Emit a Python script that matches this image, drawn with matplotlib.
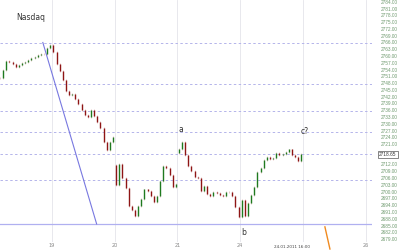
import matplotlib
matplotlib.use('Agg')
import matplotlib.pyplot as plt
import numpy as np

title = "Nasdaq"
day_ticks = [0, 1, 2, 3, 4, 5]
day_labels = ['19', '20', '21', '24', '', '26']
cursor_label = "24.01.2011 16:00"
last_price_label = "2718.65"

# bar closes, 20 bars per day, first bar at day -0.825
bar_start = -0.825
bar_step = 0.05
closes = [
    2750.3, 2753.8, 2757.8, 2757.4, 2756.5, 2755.2, 2756.0, 2756.9, 2757.4, 2758.3,
    2759.1, 2759.6, 2760.5, 2760.9, 2760.9, 2763.6, 2764.9, 2761.8, 2756.5, 2753.4,
    2749.4, 2744.5, 2742.8, 2743.2, 2741.0, 2738.8, 2736.1, 2733.9, 2733.0, 2736.1,
    2733.5, 2730.8, 2728.2, 2722.0, 2718.5, 2722.0, 2724.2, 2702.9, 2712.2, 2706.0,
    2701.6, 2693.6, 2691.9, 2689.2, 2693.6, 2696.8, 2700.8, 2700.3, 2698.1, 2695.4,
    2698.1, 2704.7, 2711.4, 2710.5, 2707.4, 2702.1, 2703.4, 2718.9, 2722.0, 2716.2,
    2711.4, 2709.1, 2706.5, 2706.0, 2700.3, 2702.5, 2699.0, 2698.1, 2699.8, 2699.4,
    2698.5, 2698.1, 2699.8, 2699.8, 2698.1, 2693.2, 2688.7, 2696.3, 2689.2, 2694.9,
    2698.5, 2702.1, 2708.7, 2710.5, 2714.0, 2715.3, 2714.4, 2714.9, 2717.1, 2716.2,
    2716.7, 2717.6, 2718.5, 2716.2, 2715.3, 2713.5, 2716.4,
]
session_start_idx = [37, 57]
session_start_open = [2711.8, 2717.1]

h_levels = [2765.8, 2747.6, 2735.6, 2726.3, 2716.6, 2705.1]
support_level = 2685.7
trend_x = [-0.143, 0.714]
trend_y = [2766.0, 2685.7]
orange_x = [4.35, 4.43]
orange_y = [2684.4, 2674.6]
wave_labels = ['a', 'b', 'c?']
wave_x = [2.05, 3.05, 4.03]
wave_y = [2727.3, 2681.7, 2726.6]

y_tick_vals = list(range(2679, 2785, 3))
hidden_tick_vals = [2715, 2718]  # covered by the last-price box

fig = plt.figure(figsize=(4, 2.5), dpi=100)
fig.patch.set_facecolor('white')
ax = fig.add_axes([0, 8 / 250, 372 / 400, 242 / 250])
ax.set_xlim(-0.825, 5.1)
ax.set_ylim(2677.7, 2784.8)
for s in ax.spines.values():
    s.set_visible(False)

# vertical grid
for t in day_ticks:
    ax.axvline(t, color='#e4e4ea', lw=0.6, zorder=0)

# horizontal levels
for lv in h_levels:
    ax.axhline(lv, color='#b4b4ea', lw=0.7, ls=(0, (2.5, 2.5)), zorder=1)
ax.axhline(support_level, color='#b0b0f0', lw=0.9, zorder=1)

ax.plot(trend_x, trend_y, color='#7878e0', lw=0.8, zorder=2)
ax.plot(orange_x, orange_y, color='#f08a20', lw=1.0, zorder=2, clip_on=False)

# candles
opens = [closes[0]] + closes[:-1]
for i, v in zip(session_start_idx, session_start_open):
    opens[i] = v
xs = [bar_start + bar_step * i for i in range(len(closes))]
cols = ['#1f7a1f' if c >= o else '#8e1515' for o, c in zip(opens, closes)]
lo = [min(o, c) - 0.5 for o, c in zip(opens, closes)]
hi = [max(o, c) + 0.5 for o, c in zip(opens, closes)]
ax.vlines(xs, lo, hi, colors='#d9a0a0', lw=0.4, zorder=3)
ax.vlines(xs, [min(o, c) for o, c in zip(opens, closes)],
          [max(o, c) + 0.15 for o, c in zip(opens, closes)],
          colors=cols, lw=1.0, zorder=4)

# texts
for lab, x, y in zip(wave_labels, wave_x, wave_y):
    ax.text(x, y, lab, fontsize=5.5, color='#333333', ha='center', va='center',
            family='DejaVu Sans')
fig.text(31 / 400, 1 - 17 / 250, title, fontsize=5.5, color='#333333',
         ha='center', va='center')

ax.set_xticks(day_ticks)
ax.set_xticklabels(day_labels, fontsize=3.6, color='#888888')
ax.tick_params(axis='x', length=0, pad=1)

ax.yaxis.tick_right()
ax.set_yticks(y_tick_vals)
ax.set_yticklabels(['' if v in hidden_tick_vals else '%.2f' % v for v in y_tick_vals],
                   fontsize=3.4, color='#6f9a6f', family='Liberation Sans')
ax.tick_params(axis='y', length=0, pad=6.5)

ax.annotate(last_price_label, xy=(1, closes[-1]), xycoords=('axes fraction', 'data'),
            xytext=(5.2, 0), textcoords='offset points', fontsize=3.4,
            family='Liberation Sans', color='#333333', va='center', ha='left',
            bbox=dict(boxstyle='square,pad=0.2', fc='white', ec='#555555', lw=0.5),
            annotation_clip=False)

fig.text(292 / 400, 1 - 247 / 250, cursor_label, fontsize=3.0, color='#444444',
         ha='center', va='center')

fig.savefig('out.png', dpi=100, facecolor='white')
